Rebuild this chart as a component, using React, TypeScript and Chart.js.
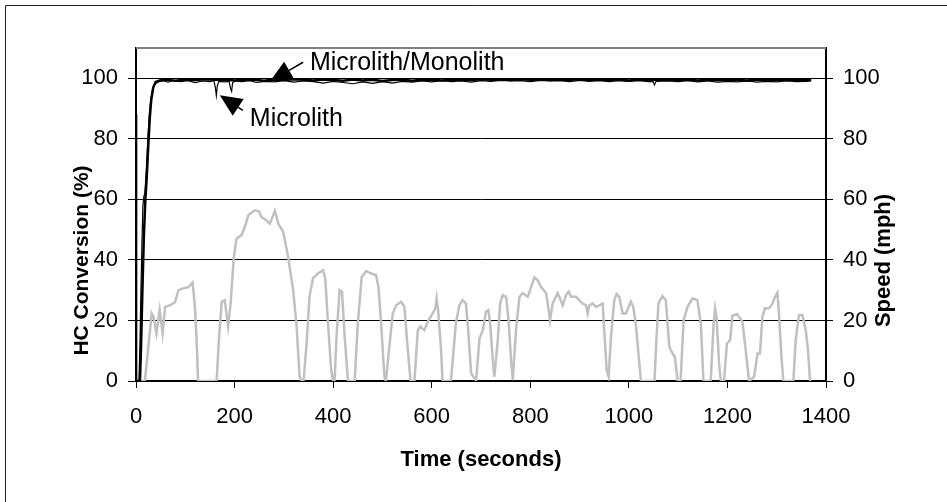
import React, { useEffect, useRef } from "react";
import { Chart, registerables } from "chart.js";

Chart.register(...registerables);

// ---- Data ----
const X_MIN = 0;
const X_MAX = 1400;
const X_STEP = 200;
const Y_MIN = 0;
const Y_MAX = 110;
const Y_STEP = 20;

// Vehicle speed (mph) vs time (s)
const SPEED_T = [
  0, 18, 25, 32, 36, 41.5, 48, 54, 59, 69, 79, 86, 96, 106, 115, 119.5, 123, 126,
  163.5, 169, 174, 180, 187, 192, 198.5, 204, 214, 221, 228, 241, 250, 254.5, 265,
  271.5, 282, 288.6, 298.6, 308.6, 318.8, 325.5, 332, 336, 340, 346, 352, 359, 369,
  379.5, 384, 389.6, 396, 400, 403, 406.5, 413, 418, 423, 430, 443.7, 450, 458, 467,
  477, 487, 492, 497.3, 504, 507, 514, 521, 527.8, 537.9, 544.6, 551, 557, 565,
  571.8, 577, 585, 592, 602, 607.4, 610, 613, 619, 622, 639, 649, 656, 662.6,
  669.4, 674, 680, 690, 697, 703.7, 710, 715, 718.5, 724, 727, 734, 738.8, 744, 751,
  756, 761, 764.5, 771, 778, 784.8, 795, 801.6, 808.4, 815, 822, 832, 835.4, 840,
  845.4, 855.5, 859, 865.7, 872.5, 878, 882.6, 892.7, 899.5, 906, 913, 916.4, 919.8,
  926.5, 933, 940, 946.8, 950, 955, 959, 963.7, 970.4, 975, 980.6, 987.4, 994, 1004,
  1008.9, 1014, 1020, 1024.5, 1052, 1056, 1060, 1068, 1075, 1078.5, 1082, 1088.6,
  1093.3, 1099, 1105, 1111, 1119, 1129, 1139, 1146, 1151.4, 1166, 1172, 1175, 1178,
  1183, 1186.6, 1193, 1199, 1205.5, 1210, 1219, 1225.8, 1230.5, 1237, 1244, 1254,
  1261, 1266, 1271, 1276, 1284.5, 1291.4, 1296, 1301.4, 1305, 1309.6, 1313.5,
  1333.8, 1338.5, 1345, 1352, 1359, 1363.5, 1367.6,
];
const SPEED = [
  0, 0, 11.3, 22.3, 21, 15.7, 23.4, 15.7, 24.5, 25, 26, 30, 30.6, 31, 32.5, 24.5, 13.5, 0,
  0, 15.7, 26.2, 26.7, 18, 25.6, 41, 47, 48.2, 51, 54.8, 56.4, 56, 54.2, 53,
  52, 56.2, 52, 49.3, 41, 30, 19, 1.4, 0, 0, 12, 27.8, 33.9, 35.5,
  36.6, 33.9, 19, 3.6, 0, 0, 13.5, 30, 29.5, 15.7, 0, 0, 19, 34.4, 36.3,
  35.5, 35, 31, 19, 1.4, 0, 11.3, 22.3, 25, 26.2, 24.5, 11.3, 0, 0,
  16.8, 18, 16.8, 19.6, 22.3, 24, 27.3, 23.4, 10.2, 0, 0, 19, 25, 26.7,
  25.6, 16.8, 2.5, 0, 14, 16.8, 22.9, 23.4, 19, 6.9, 1.4, 13.5, 25.6, 28.4, 27.8,
  20, 6.9, 0.3, 16.8, 27.8, 29, 27.8, 31, 34.2, 33.3, 31, 29, 25.6, 20,
  25.6, 29, 27.8, 25, 28.4, 29.5, 27.8, 27.8, 26.7, 25.6, 25, 22.3, 25,
  25.6, 24.5, 25, 25.6, 16.8, 3.6, 1.4, 14.6, 26.7, 28.7, 27.8, 22.3, 22.3, 26.2,
  24.5, 19, 8, 0, 0, 14, 25.6, 28, 26.7, 19, 11.3, 9.1,
  8, 0, 0, 20, 24.5, 27.3, 26.7, 19, 0, 0, 19, 24, 21.2,
  5.8, 0, 0, 12.4, 13.5, 21.5, 22.1, 20.7, 19.6, 10.2, 0, 1.4,
  9.1, 9.1, 21.2, 24, 24, 25.6, 27.6, 29.2, 21.2, 8, 0,
  0, 13.5, 21.8, 21.8, 16.8, 10.2, 0,
];

// HC conversion (%) – Microlith/Monolith
const MONO_T = [
  0, 8, 10, 13, 16, 19, 22, 25, 28, 31, 35, 40, 48, 60, 80, 100, 120, 140, 160, 180,
  200, 220, 240, 260, 280, 300, 320, 340, 360, 380, 400, 420, 440, 460, 480, 500,
  520, 540, 560, 580, 600, 620, 640, 660, 680, 700, 720, 740, 760, 780, 800, 820,
  840, 860, 880, 900, 920, 940, 960, 980, 1000, 1020, 1040, 1060, 1080, 1100, 1120,
  1140, 1160, 1180, 1200, 1220, 1240, 1260, 1280, 1300, 1320, 1340, 1360, 1370,
];
const MONO = [
  0, 0, 10, 30, 48, 60, 68, 78, 87, 93, 97, 98.8, 99.3, 99.5, 99.2, 99.6, 99.4, 99.7, 99.5, 99.6,
  99.3, 99.6, 99.5, 99.2, 99.6, 99.4, 99.7, 99.5, 99.3, 99.6, 99.4, 99.2, 99.6, 99.3, 99.5, 99.1,
  99.4, 99.6, 99.2, 99.5, 99.6, 99.3, 99.5, 99.6, 99.4, 99.7, 99.5, 99.6, 99.4, 99.7, 99.5, 99.6,
  99.4, 99.6, 99.5, 99.7, 99.4, 99.6, 99.5, 99.6, 99.3, 99.6, 99.5, 99.6, 99.4, 99.6, 99.5,
  99.3, 99.6, 99.4, 99.6, 99.5, 99.3, 99.6, 99.4, 99.6, 99.5, 99.4, 99.6, 99.5,
];

// HC conversion (%) – Microlith
const MICRO_T = [
  0, 1, 2, 6, 8, 10, 12, 14, 16, 18, 21, 24, 27, 30, 34, 38, 45, 55, 65, 75, 90, 105,
  120, 135, 150, 158, 161, 163, 165, 168, 180, 189, 192, 194, 196, 200, 215, 230, 245,
  260, 280, 300, 320, 340, 360, 380, 400, 420, 440, 460, 480, 500, 520, 540, 560, 580,
  600, 620, 640, 660, 680, 700, 720, 740, 760, 780, 800, 820, 840, 860, 880, 900, 920,
  940, 960, 980, 1000, 1020, 1040, 1049, 1052, 1055, 1080, 1100, 1120, 1140, 1160,
  1180, 1200, 1220, 1240, 1260, 1280, 1300, 1320, 1340, 1360, 1370,
];
const MICRO = [
  88, 40, 0, 0, 12, 30, 45, 58, 61, 62, 70, 80, 88, 93, 96.5, 98, 98.8, 99.2, 98.7, 99.3, 98.9, 99.2,
  98.6, 99.1, 98.9, 99.2, 97, 94.3, 97.5, 99, 98.8, 99, 96.5, 95.7, 98.5, 99.1, 98.9, 99.2, 98.6,
  99, 98.8, 99.2, 98.7, 99.1, 98.9, 98.4, 99, 98.6, 98.2, 98.8, 98.3, 98.9, 98.4, 99, 98.7, 99.1,
  98.8, 99.2, 98.9, 99.1, 98.7, 99.2, 99, 99.3, 99.1, 99.2, 98.9, 99.3, 99.1, 99.2, 98.9, 99.3, 99,
  99.2, 98.9, 99.2, 99, 99.2, 98.9, 99, 97.8, 99, 99.1, 98.9, 99.2, 98.8, 99.1,
  98.7, 99, 98.8, 99.1, 98.7, 99, 98.8, 99.1, 98.9, 99, 99.1,
];

// Annotations (data coordinates: [time, %])
const ANNOT_MONO_TEXT = "Microlith/Monolith";
const ANNOT_MONO_TIP = [272, 99.0];
const ANNOT_MONO_TAIL = [339, 105.3];
const ANNOT_MONO_LABEL = [353, 105.1];
const ANNOT_MICRO_TEXT = "Microlith";
const ANNOT_MICRO_TIP = [170, 94.4];
const ANNOT_MICRO_TAIL = [217, 89.4];
const ANNOT_MICRO_LABEL = [231, 86.5];

const Y_TITLE = "HC Conversion (%)";
const Y2_TITLE = "Speed (mph)";
const X_TITLE = "Time (seconds)";

const FONT = "'Liberation Sans', Arial, sans-serif";
const TICK_SIZE = 22;
const TITLE_SIZE = 22;

const zip = (t: number[], v: number[]) => t.map((x, i) => ({ x, y: v[i] }));

function drawArrow(ctx: CanvasRenderingContext2D, tx: number, ty: number, fx: number, fy: number) {
  const ang = Math.atan2(ty - fy, tx - fx);
  const headLen = 22;
  const headW = 10;
  const bx = tx - headLen * Math.cos(ang);
  const by = ty - headLen * Math.sin(ang);
  ctx.beginPath();
  ctx.moveTo(fx, fy);
  ctx.lineTo(bx, by);
  ctx.strokeStyle = "#000";
  ctx.lineWidth = 1.5;
  ctx.stroke();
  ctx.beginPath();
  ctx.moveTo(tx, ty);
  ctx.lineTo(bx + headW * Math.sin(ang), by - headW * Math.cos(ang));
  ctx.lineTo(bx - headW * Math.sin(ang), by + headW * Math.cos(ang));
  ctx.closePath();
  ctx.fillStyle = "#000";
  ctx.fill();
}

function vText(ctx: CanvasRenderingContext2D, text: string, x: number, y: number, size: number) {
  ctx.save();
  ctx.translate(x, y);
  ctx.rotate(-Math.PI / 2);
  ctx.font = `bold ${size}px ${FONT}`;
  ctx.textAlign = "center";
  ctx.textBaseline = "middle";
  ctx.fillStyle = "#000";
  ctx.fillText(text, 0, 0);
  ctx.restore();
}

const decor = {
  id: "decor",
  afterDraw(chart: any) {
    const { ctx, chartArea, scales } = chart;
    const xs = scales.x;
    const ys = scales.y;
    ctx.save();
    // outer chart border (left & top visible)
    ctx.strokeStyle = "#222";
    ctx.lineWidth = 1;
    ctx.beginPath();
    ctx.moveTo(5.5, 502);
    ctx.lineTo(5.5, 5.5);
    ctx.lineTo(947, 5.5);
    ctx.stroke();
    // plot area top border
    ctx.strokeStyle = "#808080";
    ctx.lineWidth = 2;
    ctx.beginPath();
    ctx.moveTo(chartArea.left, chartArea.top);
    ctx.lineTo(chartArea.right, chartArea.top);
    ctx.stroke();

    // annotations
    const P = (p: number[]) => [xs.getPixelForValue(p[0]), ys.getPixelForValue(p[1])];
    const t1 = P(ANNOT_MONO_TIP), f1 = P(ANNOT_MONO_TAIL), l1 = P(ANNOT_MONO_LABEL);
    const t2 = P(ANNOT_MICRO_TIP), f2 = P(ANNOT_MICRO_TAIL), l2 = P(ANNOT_MICRO_LABEL);
    drawArrow(ctx, t1[0], t1[1], f1[0], f1[1]);
    drawArrow(ctx, t2[0], t2[1], f2[0], f2[1]);
    ctx.fillStyle = "#000";
    ctx.font = `25px ${FONT}`;
    ctx.textAlign = "left";
    ctx.textBaseline = "middle";
    ctx.fillText(ANNOT_MONO_TEXT, l1[0], l1[1]);
    ctx.fillText(ANNOT_MICRO_TEXT, l2[0], l2[1]);

    // axis titles (both read bottom-to-top)
    const midY = (chartArea.top + chartArea.bottom) / 2 + 46;
    vText(ctx, Y_TITLE, 82, midY, 21);
    vText(ctx, Y2_TITLE, 884, midY, TITLE_SIZE);
    ctx.restore();
  },
};

const plain = (v: any) => String(v);

export default function App() {
  const ref = useRef<HTMLCanvasElement>(null);
  useEffect(() => {
    if (!ref.current) return;
    Chart.defaults.font.family = FONT;
    Chart.defaults.color = "#000";
    const chart = new Chart(ref.current, {
      type: "line",
      data: {
        datasets: [
          {
            label: "Microlith/Monolith",
            data: zip(MONO_T, MONO),
            borderColor: "#000",
            borderWidth: 2.5,
            pointRadius: 0,
            tension: 0,
            yAxisID: "y",
          },
          {
            label: "Microlith",
            data: zip(MICRO_T, MICRO),
            borderColor: "#000",
            borderWidth: 1.2,
            pointRadius: 0,
            tension: 0,
            yAxisID: "y",
          },
          {
            label: "Speed",
            data: zip(SPEED_T, SPEED),
            borderColor: "#c0c0c0",
            borderWidth: 2.5,
            pointRadius: 0,
            tension: 0,
            yAxisID: "y2",
          },
        ],
      },
      options: {
        responsive: false,
        animation: false,
        layout: { padding: { top: 48, left: 0, right: 0, bottom: 0 } },
        plugins: { legend: { display: false }, tooltip: { enabled: false } },
        scales: {
          x: {
            type: "linear",
            min: X_MIN,
            max: X_MAX,
            ticks: { stepSize: X_STEP, font: { size: TICK_SIZE }, padding: 16, maxRotation: 0, color: "#000", callback: plain },
            grid: { drawOnChartArea: false, drawTicks: true, tickLength: 7, color: "#000", tickColor: "#000" },
            border: { display: true, color: "#000", width: 2 },
            title: { display: true, text: X_TITLE, font: { size: TITLE_SIZE, weight: "bold" }, color: "#000", padding: { top: 0, bottom: 29 } },
            afterFit: (s: any) => { s.height = 121; },
          },
          y: {
            position: "left",
            min: Y_MIN,
            max: Y_MAX,
            ticks: { stepSize: Y_STEP, includeBounds: false, font: { size: TICK_SIZE }, padding: 10, color: "#000", callback: plain },
            grid: { drawOnChartArea: true, color: "#000", lineWidth: 1, tickLength: 8, tickColor: "#000" },
            border: { display: true, color: "#000", width: 2 },
            afterFit: (s: any) => { s.width = 136; },
          },
          y2: {
            position: "right",
            min: Y_MIN,
            max: Y_MAX,
            ticks: { stepSize: Y_STEP, includeBounds: false, font: { size: TICK_SIZE }, padding: 10, color: "#000", callback: plain },
            grid: { drawOnChartArea: false, tickLength: 7, color: "#000", tickColor: "#000" },
            border: { display: true, color: "#000", width: 2 },
            afterFit: (s: any) => { s.width = 121; },
          },
        },
      },
      plugins: [decor],
    } as any);
    return () => chart.destroy();
  }, []);
  return (
    <div style={{ position: "fixed", left: 0, top: 0, width: 947, height: 502, background: "#fff" }}>
      <canvas ref={ref} width={947} height={502} style={{ display: "block" }} />
    </div>
  );
}
